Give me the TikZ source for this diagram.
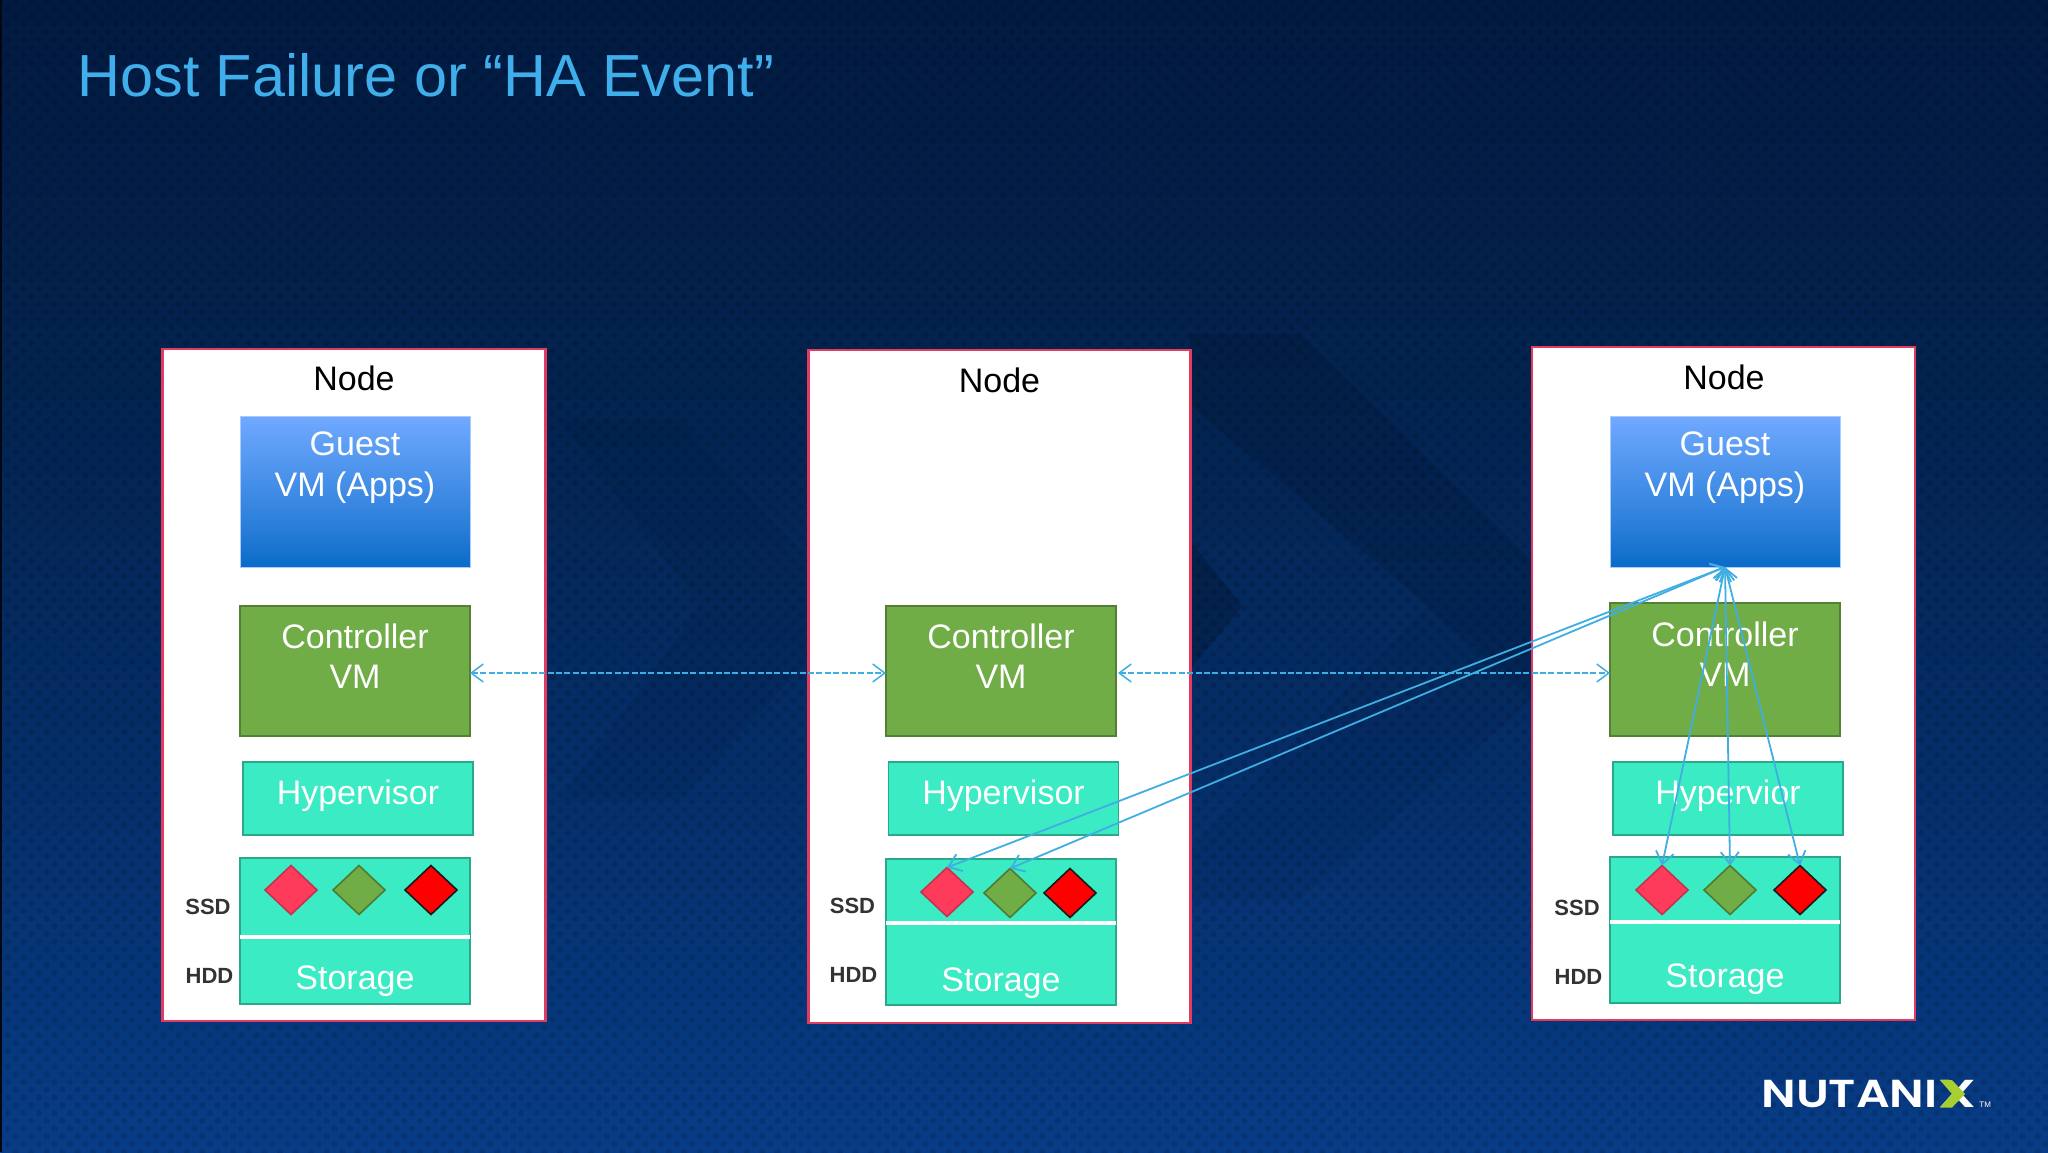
\documentclass[tikz,border=0pt]{standalone}
\usepackage{fontspec}
\usepackage{graphicx}
\setmainfont{Liberation Sans}
\newfontfamily\logofont{Poppins SemiBold}
\usetikzlibrary{arrows.meta,shapes.geometric,patterns.meta}
\definecolor{bgA}{HTML}{021A40}
\definecolor{bgB}{HTML}{03234F}
\definecolor{bgC}{HTML}{052E68}
\definecolor{bgD}{HTML}{073C86}
\definecolor{titleblue}{HTML}{3FAEEA}
\definecolor{nodeedge}{HTML}{E43A5E}
\definecolor{arrowblue}{HTML}{3FAEE2}
\definecolor{ctrlfill}{HTML}{70AD47}
\definecolor{ctrledge}{HTML}{557F35}
\definecolor{tealfill}{HTML}{3BEBC3}
\definecolor{tealedge}{HTML}{2BA88C}
\definecolor{pinkfill}{HTML}{FF3B5C}
\definecolor{pinkedge}{HTML}{C8304E}
\definecolor{greenedge}{HTML}{4F7A30}
\definecolor{guesttop}{HTML}{70A9FF}
\definecolor{guestbot}{HTML}{0A6BC8}
\definecolor{logogreen}{HTML}{A6D02F}
\pgfdeclareverticalshading{bgsh}{100bp}{color(0bp)=(bgD); color(25bp)=(bgD); color(42bp)=(bgC); color(58bp)=(bgB); color(75bp)=(bgA); color(100bp)=(bgA)}
\pgfdeclareverticalshading{guestsh}{100bp}{color(0bp)=(guestbot); color(25bp)=(guestbot); color(38bp)=(guestbot!70!guesttop); color(75bp)=(guesttop); color(100bp)=(guesttop)}
\tikzset{
  outerbox/.style={draw=nodeedge,line width=1.1pt,fill=white,inner sep=0,outer sep=0},
  guestbox/.style={draw=guesttop!60,line width=.4pt,shading=guestsh,inner sep=0,outer sep=0,minimum width=115pt,minimum height=75.5pt},
  ctrlbox/.style={draw=ctrledge,line width=.9pt,fill=ctrlfill,inner sep=0,outer sep=0,minimum width=115pt},
  tealbox/.style={draw=tealedge,line width=.9pt,fill=tealfill,inner sep=0,outer sep=0,minimum width=115pt},
  gem/.style={diamond,aspect=1.04,inner sep=0,outer sep=0,minimum width=26pt,minimum height=24.5pt,line width=.8pt},
  gempink/.style={gem,draw=pinkedge,fill=pinkfill},
  gemgreen/.style={gem,draw=greenedge,fill=ctrlfill},
  gemred/.style={gem,draw=black!90,fill=red},
  boxtext/.style={text=white,font=\fontsize{17}{20}\selectfont,align=center,inner sep=0},
  nodetitle/.style={text=black,font=\fontsize{17}{20}\selectfont,inner sep=0},
  tier/.style={text=black!80,font=\fontsize{11}{13}\selectfont\bfseries,inner sep=0},
  dividerline/.style={draw=white,line width=1.6pt},
  link/.style={draw=arrowblue,line width=.9pt,{Straight Barb[length=6pt,width=9pt]}-{Straight Barb[length=6pt,width=9pt]}},
  peer/.style={link,line width=.75pt,dash pattern=on 3pt off 1.2pt},
  logotext/.style={anchor=base west,text=white,font=\logofont\fontsize{19.5}{20}\selectfont,inner sep=0},
}
\begin{document}
\begin{tikzpicture}[x=.5pt,y=-.5pt]
\useasboundingbox (0,0) rectangle (2048,1152);
\path[shading=bgsh] (0,0) rectangle (2048,1152);
% faint chevron watermark
\fill[black!40!bgA,fill opacity=.2] (1190,334) -- (1300,334) -- (1532,560) -- (1532,700) -- (1428,606) -- (1190,405) -- cycle;
\fill[black!40!bgA,fill opacity=.3] (1190,540) -- (1242,606) -- (1190,670) -- cycle;
\fill[black!40!bgA,fill opacity=.07] (1428,606) -- (1532,700) -- (1300,900) -- (1190,900) -- (1190,850) -- cycle;
\fill[black!40!bgA,fill opacity=.08] (560,420) -- (680,420) -- (808,560) -- (808,660) -- (680,800) -- (560,800) -- (700,606) -- cycle;
% hexagon-like texture
\fill[pattern={Dots[distance=5.5pt,radius=1.5pt,angle=45]},pattern color=black,fill opacity=.12] (2,0) rectangle (2048,1152);
\fill[black!70!bgA] (0,0) rectangle (2,1152);
\node[anchor=base west,text=titleblue,font=\fontsize{29.7}{36}\selectfont,inner sep=0] (title) at (77,96) {Host Failure or “HA Event”};

% outer boxes
\node[outerbox,minimum width=191.5pt,minimum height=336pt] (n1) at (354,685) {};
\node[outerbox,minimum width=191pt,minimum height=336.5pt] (n2) at (999.5,686.5) {};
\node[outerbox,minimum width=191.5pt,minimum height=336.5pt] (n3) at (1723.5,683.5) {};
\node[nodetitle] (t1) at (354,378) {Node};
\node[nodetitle] (t2) at (999.5,380) {Node};
\node[nodetitle] (t3) at (1724,377) {Node};

% guest VMs
\node[guestbox] (g1) at (355,491.5) {};
\node[guestbox] (g3) at (1725,491.5) {};
\node[boxtext] (gt1) at (355,467.5) {Guest\\[.2pt]VM (Apps)};
\node[boxtext] (gt3) at (1725,467.5) {Guest\\[.2pt]VM (Apps)};

% controllers
\node[ctrlbox,minimum height=65pt] (c1) at (355,671) {};
\node[ctrlbox,minimum height=65pt] (c2) at (1001,671) {};
\node[ctrlbox,minimum height=66.5pt] (c3) at (1725,669.5) {};
\node[boxtext] (ct1) at (355,656) {Controller\\[.2pt]VM};
\node[boxtext] (ct2) at (1001,656) {Controller\\[.2pt]VM};
\node[boxtext] (ct3) at (1725,654) {Controller\\[.2pt]VM};

% hypervisors
\node[tealbox,minimum height=36.5pt] (h1) at (358,798.5) {};
\node[tealbox,minimum height=36.5pt] (h2) at (1003.5,798.5) {};
\node[tealbox,minimum height=36.5pt] (h3) at (1728,798.5) {};
\node[boxtext] (ht1) at (358,795.5) {Hypervisor};
\node[boxtext] (ht2) at (1003.5,795.5) {Hypervisor};
\node[boxtext] (ht3) at (1728,795.5) {Hypervior};

% storage
\node[tealbox,minimum height=73pt] (s1) at (355,931) {};
\node[tealbox,minimum height=73pt] (s2) at (1001,932) {};
\node[tealbox,minimum height=73pt] (s3) at (1725,930) {};
\coordinate (l1) at (0,937);
\coordinate (l2) at (0,923);
\coordinate (l3) at (0,922);
\draw[dividerline] (s1.west |- l1) -- (s1.east |- l1);
\draw[dividerline] (s2.west |- l2) -- (s2.east |- l2);
\draw[dividerline] (s3.west |- l3) -- (s3.east |- l3);
\node[boxtext] (st1) at (355,981) {Storage};
\node[boxtext] (st2) at (1001,983) {Storage};
\node[boxtext] (st3) at (1725,979) {Storage};

% tier labels
\node[tier] (ssd1) at (208,907) {SSD};
\node[tier] (hdd1) at (209.5,976) {HDD};
\node[tier] (ssd2) at (852.5,906) {SSD};
\node[tier] (hdd2) at (853.5,974.5) {HDD};
\node[tier] (ssd3) at (1577,907.5) {SSD};
\node[tier] (hdd3) at (1578.5,977) {HDD};

% diamonds
\node[gempink] (d11) at (291,890) {};
\node[gemgreen] (d12) at (359,890) {};
\node[gemred] (d13) at (431,890) {};
\node[gempink] (d21) at (947,892) {};
\node[gemgreen] (d22) at (1010,893) {};
\node[gemred] (d23) at (1070,893) {};
\node[gempink] (d31) at (1662,890) {};
\node[gemgreen] (d32) at (1730,890) {};
\node[gemred] (d33) at (1800,890) {};

% connectors
\coordinate (dy) at (0,673);
\draw[peer] (c1.east |- dy) -- (c2.west |- dy);
\draw[peer] (c2.east |- dy) ++(2,0) -- (c3.west |- dy);
\draw[link] (g3.south) -- (d21.north);
\draw[link] (g3.south) -- (d22.north);
\draw[link] (g3.south) -- (d31.north);
\draw[link] (g3.south) -- (d32.north);
\draw[link] (g3.south) -- (d33.north);

% logo
\node[logotext] (logo) at (1761,1107) {\scalebox{1.208}[1]{NUTANI}};
\node[logotext] (logox) at (1938,1107) {\scalebox{1.42}[1]{X}};
\fill[logogreen] (1940,1080) -- (1952,1080) -- (1965,1094) -- (1952,1107.5) -- (1940,1107.5) -- (1952,1094) -- cycle;
\node[anchor=base west,text=white,font=\fontsize{4}{4}\selectfont,inner sep=0] (tm) at (1979,1107) {TM};
\end{tikzpicture}
\end{document}
